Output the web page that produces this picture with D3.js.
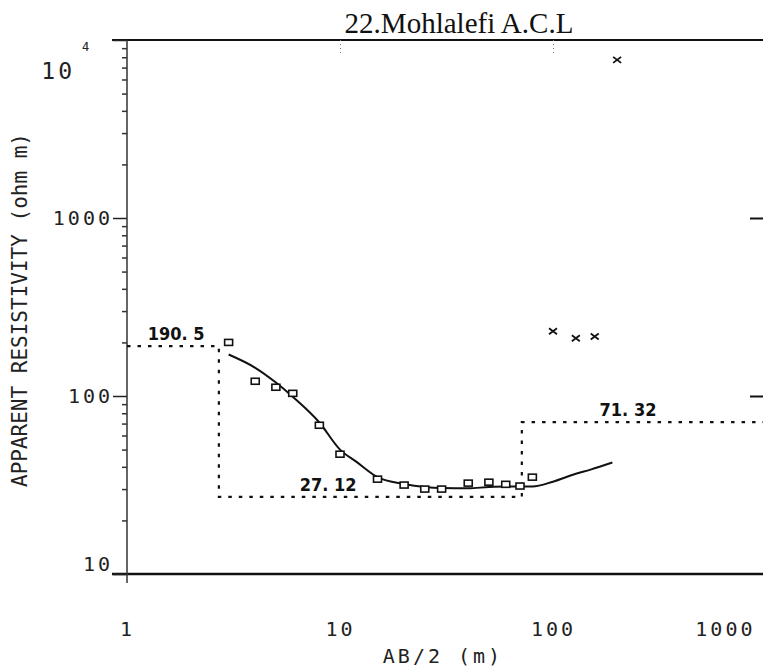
<!DOCTYPE html>
<html>
<head>
<meta charset="utf-8">
<script src="https://cdn.jsdelivr.net/npm/d3@7"></script>
<style>
  body { margin: 0; background: #fff; }
  .mono { font-family: 'DejaVu Sans Mono', 'Liberation Mono', monospace; fill: #222; }
</style>
</head>
<body>
<svg id="chart" width="763" height="670"></svg>
<script>
const title = '22.Mohlalefi A.C.L';
const xTicks = [1, 10, 100, 1000];
const yTicks = [10, 100, 1000, 10000];

// field readings (squares)
const obsAB = [3, 4, 5, 6, 8, 10, 15, 20, 25, 30, 40, 50, 60, 70, 80];
const obsRho = [200, 121, 112, 103.5, 68.5, 47.1, 34.1, 31.6, 30.0, 30.0, 32.4, 32.8, 31.9, 31.2, 35.0];

// readings left out of the fit (crosses)
const rejAB = [100, 128, 157, 200];
const rejRho = [231, 211, 216, 7730];

// fitted sounding curve
const fitAB = [3, 4, 5, 6, 8, 10, 12, 15, 20, 25, 30, 40, 50, 60, 80, 100, 125, 150, 190];
const fitRho = [171, 144, 119, 99, 71, 50, 42.5, 35, 32, 30.8, 30.4, 30.3, 30.8, 31, 31, 33, 36.2, 38.6, 42.3];

// layered model
const layerRho = [190.5, 27.12, 71.32];
const layerDepth = [2.7, 71.4];
const layerLabelAB = [1.7, 8.8, 225];

const width = 763;
const height = 670;

const svg = d3.select('#chart');

const x = d3.scaleLog().domain([1, 1000]).range([127, 766]);
const y = d3.scaleLog().domain([10, 10000]).range([574, 40]);

// frame lines top and bottom
svg.append('line')
  .attr('x1', 112).attr('x2', width)
  .attr('y1', y(10000)).attr('y2', y(10000))
  .attr('stroke', '#111').attr('stroke-width', 2);
svg.append('line')
  .attr('x1', 112).attr('x2', width)
  .attr('y1', y(10)).attr('y2', y(10))
  .attr('stroke', '#111').attr('stroke-width', 2.5);

// title
svg.append('text')
  .attr('x', 459).attr('y', 33)
  .attr('text-anchor', 'middle')
  .style('font-family', "'Liberation Serif', 'Times New Roman', serif")
  .style('font-size', '29px')
  .attr('fill', '#111')
  .text(title);

// y axis
const yAxis = svg.append('g')
  .attr('transform', `translate(${x(1)},0)`)
  .call(d3.axisLeft(y)
    .tickValues(yTicks)
    .tickSize(14)
    .tickSizeOuter(0)
    .tickPadding(0)
    .tickFormat((d) => (d === 10000 ? '10' : d3.format('d')(d))));
yAxis.select('.domain').remove();
yAxis.selectAll('.tick line').attr('stroke', '#222').attr('stroke-width', 1.5);
yAxis.selectAll('.tick text')
  .attr('class', 'mono')
  .style('font-size', '20px')
  .style('letter-spacing', '3px');

// the 10 and 10^4 labels sit off their ticks
yAxis.selectAll('.tick').filter((d) => d === 10).select('text').attr('y', -10);
const topTick = yAxis.selectAll('.tick').filter((d) => d === 10000);
topTick.select('text').attr('x', -52).attr('y', 31).style('font-size', '23px');
topTick.append('text')
  .attr('class', 'mono')
  .attr('x', -45).attr('y', 10)
  .attr('text-anchor', 'start')
  .style('font-size', '12px')
  .text('4');

yAxis.append('line')
  .attr('x1', 0).attr('x2', 0)
  .attr('y1', y(10000)).attr('y2', y(10) + 9)
  .attr('stroke', '#333').attr('stroke-width', 1.5);

const minor = [];
[10, 100, 1000].forEach((dec) => {
  for (let k = 2; k < 10; k++) minor.push(dec * k);
});
const yMinor = svg.append('g')
  .attr('transform', `translate(${x(1)},0)`)
  .call(d3.axisLeft(y).tickValues(minor).tickSize(5).tickSizeOuter(0).tickFormat(''));
yMinor.select('.domain').remove();
yMinor.selectAll('.tick line').attr('stroke', '#333').attr('stroke-width', 1.5);

// right hand ticks
const yRight = svg.append('g')
  .attr('transform', `translate(${x(1000)},0)`)
  .call(d3.axisLeft(y).tickValues([100, 1000]).tickSize(16).tickSizeOuter(0).tickFormat(''));
yRight.select('.domain').remove();
yRight.selectAll('.tick line').attr('stroke', '#111').attr('stroke-width', 2);

// x axis
const xAxis = svg.append('g')
  .attr('transform', `translate(0,${y(10)})`)
  .call(d3.axisBottom(x).tickValues(xTicks).tickSize(0).tickPadding(48).tickFormat(d3.format('d')));
xAxis.select('.domain').remove();
xAxis.selectAll('.tick text')
  .attr('class', 'mono')
  .style('font-size', '20px')
  .style('letter-spacing', '3px');
xAxis.selectAll('.tick').filter((d) => d === 1000).select('text')
  .attr('text-anchor', 'end').attr('x', -11);

// faint top ticks
const xTop = svg.append('g')
  .attr('transform', `translate(0,${y(10000)})`)
  .call(d3.axisBottom(x).tickValues([10, 100]).tickSize(14).tickSizeOuter(0).tickFormat(''));
xTop.select('.domain').remove();
xTop.selectAll('.tick line').attr('stroke', '#777').attr('stroke-dasharray', '1,3');

// axis titles
svg.append('text')
  .attr('class', 'mono')
  .attr('x', 443).attr('y', 663)
  .attr('text-anchor', 'middle')
  .style('font-size', '20px')
  .style('letter-spacing', '3px')
  .text('AB/2 (m)');

svg.append('text')
  .attr('class', 'mono')
  .attr('transform', 'translate(27,310) rotate(-90)')
  .attr('text-anchor', 'middle')
  .style('font-size', '21px')
  .text('APPARENT RESISTIVITY (ohm m)');

// layered model (dotted)
const modelPts = [[1, layerRho[0]]];
layerDepth.forEach((d, i) => {
  modelPts.push([d, layerRho[i]]);
  modelPts.push([d, layerRho[i + 1]]);
});
modelPts.push([1000, layerRho[layerRho.length - 1]]);

svg.append('path')
  .datum(modelPts)
  .attr('fill', 'none')
  .attr('stroke', '#111')
  .attr('stroke-width', 2.2)
  .attr('stroke-dasharray', '3.5,7')
  .attr('d', d3.line().x((d) => x(d[0])).y((d) => y(d[1])));

svg.selectAll('.layer-label')
  .data(layerRho)
  .join('text')
  .attr('class', 'layer-label')
  .attr('x', (d, i) => x(layerLabelAB[i]))
  .attr('y', (d) => y(d) - 6)
  .attr('text-anchor', 'middle')
  .style('font-family', "'Liberation Sans Narrow', 'Arial Narrow', 'DejaVu Sans Condensed', sans-serif")
  .style('font-weight', 'bold')
  .style('font-size', '18px')
  .attr('fill', '#111')
  .text((d) => String(d).replace('.', '. '));

// fitted curve
const fit = fitAB.map((d, i) => ({ x: d, y: fitRho[i] }));
svg.append('path')
  .datum(fit)
  .attr('fill', 'none')
  .attr('stroke', '#111')
  .attr('stroke-width', 2)
  .attr('d', d3.line().x((d) => x(d.x)).y((d) => y(d.y)).curve(d3.curveMonotoneX));

// squares
const obs = obsAB.map((d, i) => ({ x: d, y: obsRho[i] }));
svg.selectAll('.obs')
  .data(obs)
  .join('rect')
  .attr('class', 'obs')
  .attr('x', (d) => x(d.x) - 4)
  .attr('y', (d) => y(d.y) - 3)
  .attr('width', 8)
  .attr('height', 6)
  .attr('fill', 'white')
  .attr('stroke', '#111')
  .attr('stroke-width', 1.6);

// crosses
const rej = rejAB.map((d, i) => ({ x: d, y: rejRho[i] }));
svg.selectAll('.rej')
  .data(rej)
  .join('path')
  .attr('class', 'rej')
  .attr('transform', (d) => `translate(${x(d.x)},${y(d.y)})`)
  .attr('d', 'M-4,-3L4,3M-4,3L4,-3')
  .attr('stroke', '#111')
  .attr('stroke-width', 1.8);
</script>
</body>
</html>
